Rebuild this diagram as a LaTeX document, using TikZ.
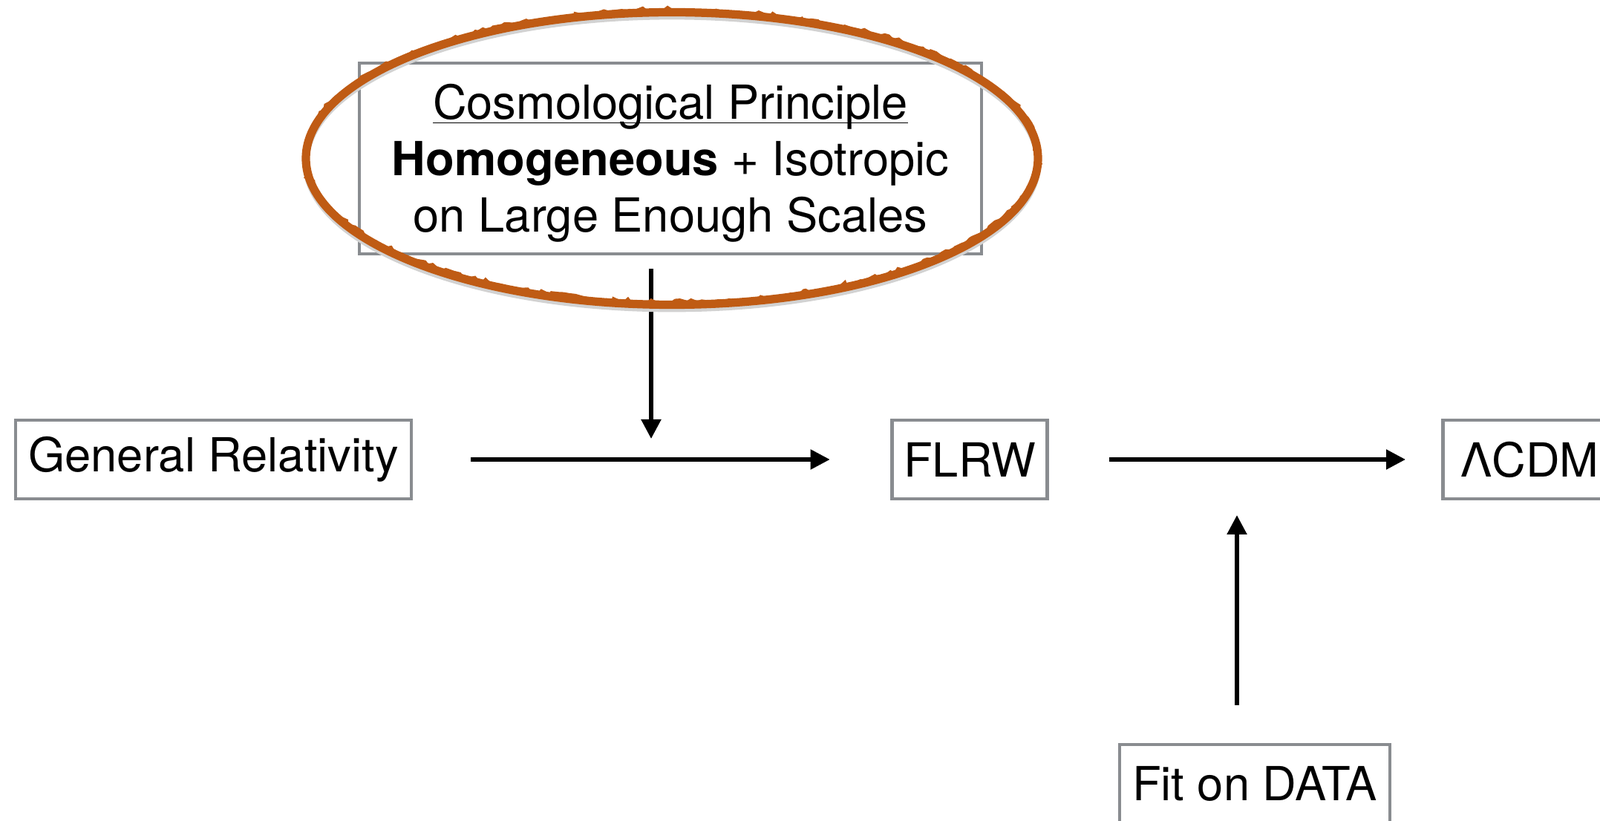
\documentclass[tikz,border=0pt]{standalone}
\usepackage{fontspec}
\setmainfont{TeX Gyre Heros}
\usepackage{tikz}
\usetikzlibrary{arrows.meta,decorations.pathmorphing}
\definecolor{boxgray}{RGB}{137,140,144}
\definecolor{chalkorange}{RGB}{191,91,20}
\begin{document}
\begin{tikzpicture}[
		box/.style={draw=boxgray, line width=1.4pt, fill=white, minimum height=1.06cm, inner xsep=0.16cm, font=\fontsize{18}{21.6}\selectfont},
		arr/.style={line width=1.5pt, -{Triangle[length=0.26cm,width=0.26cm]}},
		chalk/.style={draw=chalkorange, line width=3.2pt}
	]
				\useasboundingbox (0,0) rectangle (21.55,-11.06);

				\node[box, minimum width=8.38cm, minimum height=2.57cm, align=center] (principle) at (9.03,-2.135)
					{\rule{0pt}{17pt}\underline{\smash{Cosmological Principle}}\vphantom{Cosmological Principle}\\ \textbf{Homogeneous} + Isotropic\\ on Large Enough Scales};

				\node[box, minimum width=5.33cm] (gr) at (2.875,-6.19) {General Relativity};
				\node[box, minimum width=2.02cm] (flrw) at (13.06,-6.19) {FLRW};
				\node[box, minimum width=2.34cm, anchor=west] (lcdm) at (19.41,-6.19) {ΛCDM};
				\node[box, minimum width=3.64cm] (fit) at (16.9,-10.56) {Fit on DATA};

				\coordinate (join1) at (8.77,-6.19);
				\coordinate (join2) at (16.66,-6.19);

				\draw[arr, shorten <=0.78cm, shorten >=0.81cm] (gr) -- (flrw);
				\draw[arr, shorten <=0.81cm, shorten >=0.48cm] (flrw) -- (lcdm);
				\draw[arr, shorten <=0.18cm, shorten >=0.28cm] (principle.south -| join1) -- (join1);
				\draw[arr, shorten <=0.51cm, shorten >=0.75cm] (fit.north -| join2) -- (join2);

				\draw[gray!35, line width=2.5pt] (9.05,-2.19) ellipse [x radius=4.93cm, y radius=1.97cm];
				\draw[chalk] (principle.center) ++(0.02,0) ellipse [x radius=4.93cm, y radius=1.97cm];
				\draw[chalk, line width=1.6pt, decorate, decoration={random steps, segment length=2pt, amplitude=1pt}]
					(principle.center) ++(0.02,0.02) ellipse [x radius=4.93cm, y radius=1.97cm];
			\end{tikzpicture}
\end{document}
